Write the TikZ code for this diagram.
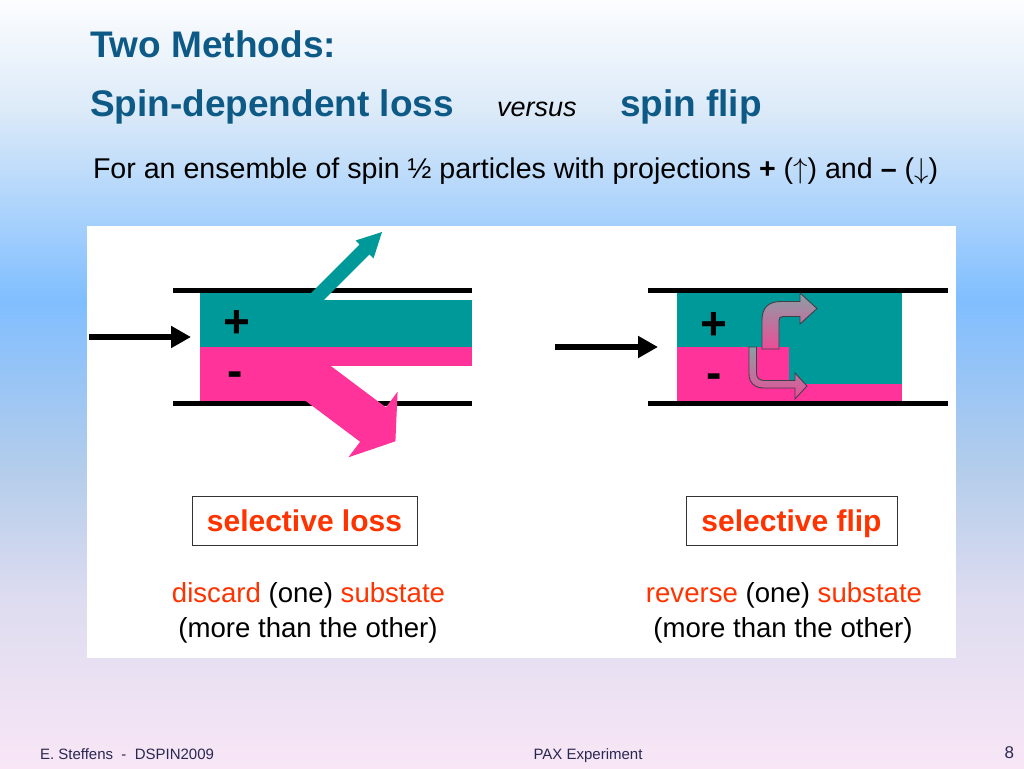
\documentclass[tikz,border=0pt]{standalone}
\usepackage{fontspec}
\setmainfont{Liberation Sans}
\usetikzlibrary{arrows.meta}
\definecolor{bg0}{RGB}{252,253,255}
\definecolor{bg1}{RGB}{220,234,248}
\definecolor{bg2}{RGB}{128,190,255}
\definecolor{bg3}{RGB}{180,205,235}
\definecolor{bg4}{RGB}{222,220,240}
\definecolor{bg5}{RGB}{248,230,246}
\definecolor{titleblue}{RGB}{14,90,134}
\definecolor{beamteal}{RGB}{0,153,153}
\definecolor{beampink}{RGB}{255,51,153}
\definecolor{redtxt}{RGB}{255,51,0}
\definecolor{footgray}{RGB}{40,40,80}
\definecolor{flipgray}{RGB}{136,160,164}
\definecolor{flippink}{RGB}{236,76,152}
\definecolor{flipedge}{RGB}{64,64,72}
\newcommand{\bigup}{\resizebox{!}{20pt}{$\uparrow$}}
\newcommand{\bigdown}{\resizebox{!}{20pt}{$\downarrow$}}
\begin{document}
\begin{tikzpicture}[x=1pt,y=-1pt,
  txt/.style={inner sep=0pt, outer sep=0pt},
  titletxt/.style={txt, anchor=base west, text=titleblue, font=\bfseries\fontsize{37}{40}\selectfont},
  foot/.style={txt, text=footgray, font=\fontsize{15}{18}\selectfont},
  pipeline/.style={line width=5pt, black},
  beamarrow/.style={line width=5.5pt, -{Triangle[length=20pt,width=21pt]}},
  signtxt/.style={txt, anchor=base, font=\bfseries\fontsize{46}{50}\selectfont},
  selbox/.style={draw=black!80, line width=1pt, inner sep=0pt, minimum width=225pt, minimum height=49pt,
     text height=22pt, text depth=0pt, text=redtxt, font=\bfseries\fontsize{30}{34}\selectfont},
  desctxt/.style={txt, anchor=base, font=\fontsize{27.6}{32}\selectfont},
  fliparrow/.style={draw=flipedge, line width=0.9pt, top color=flipgray, bottom color=flippink}
]
\useasboundingbox (0,0) rectangle (1024,768);
% background gradient
\shade[top color=bg0, bottom color=bg1] (0,0) rectangle (1024,110.5);
\shade[top color=bg1, bottom color=bg2] (0,110) rectangle (1024,300.5);
\shade[top color=bg2, bottom color=bg3] (0,300) rectangle (1024,470.5);
\shade[top color=bg3, bottom color=bg4] (0,470) rectangle (1024,600.5);
\shade[top color=bg4, bottom color=bg5] (0,600) rectangle (1024,768);

% titles
\node[titletxt] (t1) at (90,57) {Two Methods:};
\node[titletxt] (t2) at (90,116) {Spin-dependent loss};
\node[txt, anchor=base west, font=\itshape\fontsize{27}{30}\selectfont] (t3) at (497,116) {versus};
\node[titletxt] (t4) at (620,116) {spin flip};
\node[txt, anchor=base west, font=\fontsize{28.6}{32}\selectfont] (t5) at (93,178)
  {For an ensemble of spin ½ particles with projections \textbf{+} (\bigup) and \textbf{–} (\bigdown)};

% white panel
\fill[white] (87,226) rectangle (956,658);

% ---------- left diagram: selective loss ----------
\fill[beamteal] (200,293) rectangle (311,347.5);
\fill[beamteal] (311,300) rectangle (472,347.5);
\fill[beampink] (200,347) rectangle (311,401);
\fill[beampink] (311,347) rectangle (472,366);
\draw[pipeline] (173,290.5) -- (472,290.5);
\draw[pipeline] (173,403) -- (472,403);
% teal arrow leaving upward
\fill[beamteal] (299.05,305.05) -- (359.55,244.55) -- (355.5,240.5) -- (382,232)
  -- (373.5,258.5) -- (369.45,254.45) -- (308.95,314.95) -- cycle;
% pink arrow leaving downward
\fill[beampink] (305.5,347) -- (385.9,407.3) -- (397.6,391.7) -- (395.4,441.3)
  -- (348.4,457.3) -- (360.1,441.7) -- (279.7,381.4) -- cycle;
\node[signtxt] (pL) at (237,337) {+};
\node[signtxt] (mL) at (235,386) {-};
\coordinate (inL0) at (89,337);
\coordinate (inL1) at (191,337);
\draw[beamarrow] (inL0) -- (inL1);

% ---------- right diagram: selective flip ----------
\fill[beamteal] (677,293) rectangle (902,347.5);
\fill[beamteal] (789,347) rectangle (902,384.5);
\fill[beampink] (677,347) rectangle (789,401);
\fill[beampink] (789,384) rectangle (902,401);
\draw[pipeline] (648,290.5) -- (948,290.5);
\draw[pipeline] (648,403) -- (948,403);
\node[signtxt] (pR) at (714,339.5) {+};
\node[signtxt] (mR) at (714.5,388) {-};
% flip arrows
\path[fliparrow] (762,349) -- (762,320) .. controls (762,308) and (768,301.5) .. (781,301.5)
  -- (800,301.5) -- (800,293) -- (817,308.5) -- (800,324) -- (800,316.5) -- (783,316.5)
  .. controls (780,316.5) and (779,318) .. (779,321) -- (779,349) -- cycle;
\path[fliparrow] (749,347) -- (749,374) .. controls (749,383) and (755,388) .. (764,388)
  -- (795,388) -- (795,399) -- (807,386) -- (795,373) -- (795,380.5) -- (765,380.5)
  .. controls (759,380.5) and (756.5,378) .. (756.5,373) -- (756.5,347) -- cycle;
\coordinate (inR0) at (555,347);
\coordinate (inR1) at (658,347);
\draw[beamarrow] (inR0) -- (inR1);

% ---------- labels ----------
\node[selbox] (boxL) at (304.5,520.5) {selective loss};
\node[selbox, minimum width=211pt] (boxR) at (791.5,520.5) {selective flip};
\node[desctxt] (dL1) at (308.5,602) {\textcolor{redtxt}{discard} (one) \textcolor{redtxt}{substate}};
\node[desctxt] (dL2) at (308,637) {(more than the other)};
\node[desctxt] (dR1) at (784,602) {\textcolor{redtxt}{reverse} (one) \textcolor{redtxt}{substate}};
\node[desctxt] (dR2) at (783,637) {(more than the other)};

% footer
\node[foot, anchor=base west] (f1) at (40,759) {E. Steffens \ - \ DSPIN2009};
\node[foot, anchor=base] (f2) at (588,759) {PAX Experiment};
\node[foot, anchor=base east, font=\fontsize{17}{20}\selectfont] (f3) at (1014,758) {8};
\end{tikzpicture}
\end{document}
